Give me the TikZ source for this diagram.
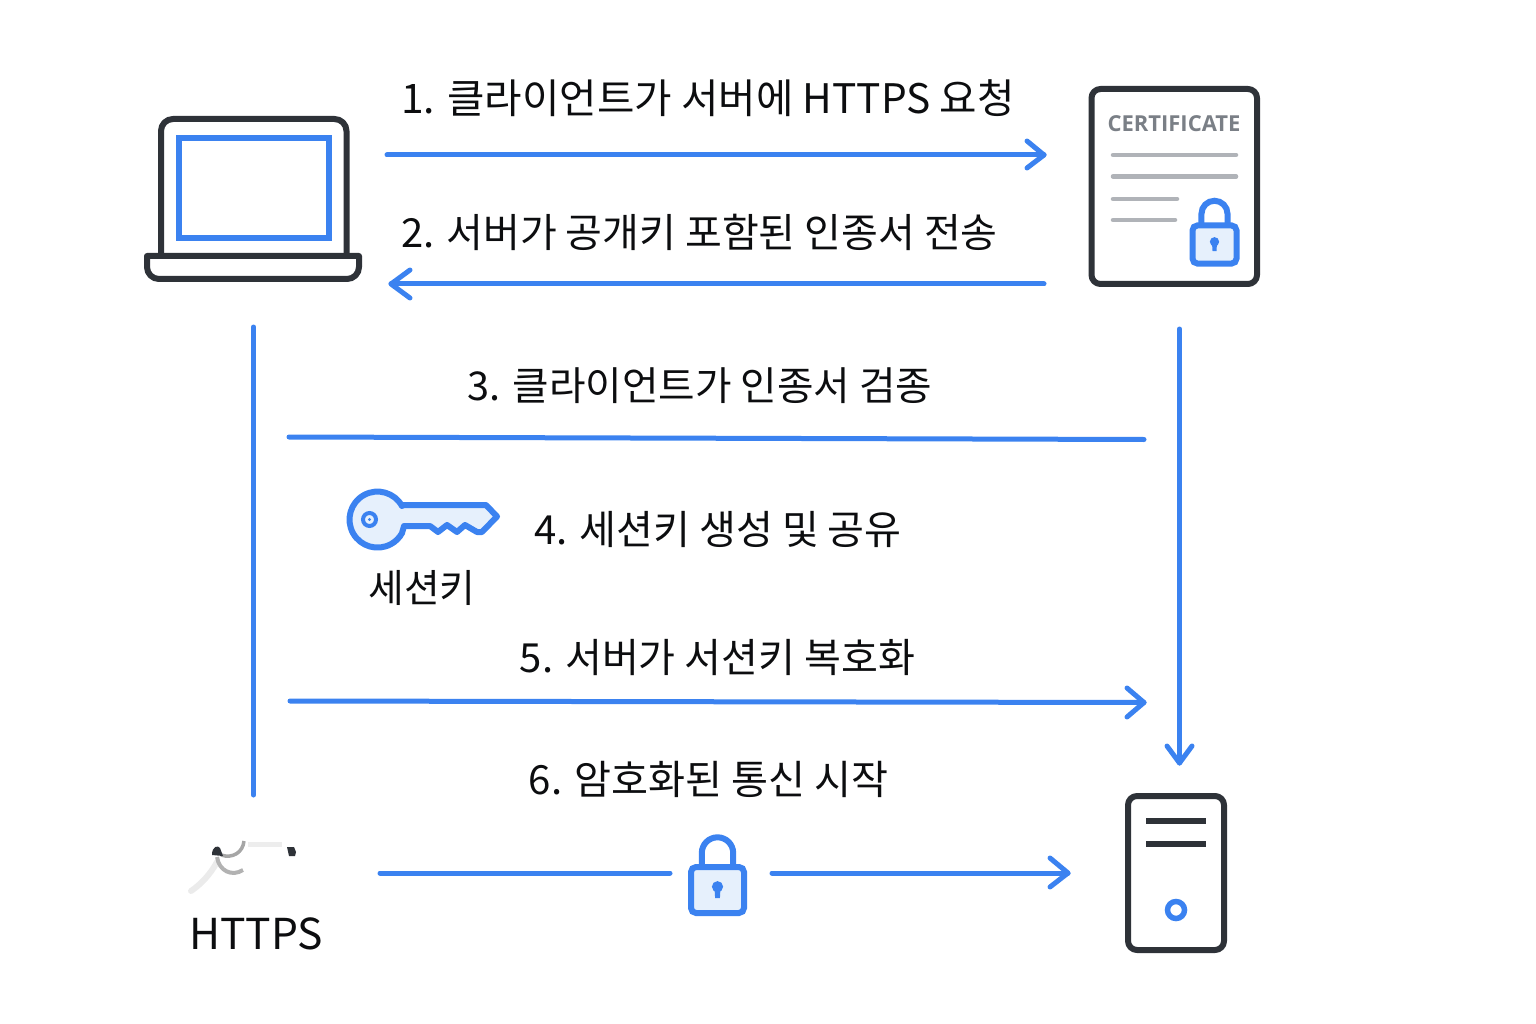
\documentclass[tikz,border=0pt]{standalone}
\usepackage{fontspec}
\setmainfont{Noto Sans CJK KR}
\newfontfamily\latinfont{Open Sans}
\definecolor{bluemain}{HTML}{3B82F0}
\definecolor{bluefill}{HTML}{E6F0FC}
\definecolor{darkline}{HTML}{2E3238}
\definecolor{inkline}{HTML}{0C0D0F}
\definecolor{graybar}{HTML}{B0B3B8}
\definecolor{certgray}{HTML}{7A7F86}
\tikzset{
  flow/.style={draw=bluemain,line width=5pt,line cap=round,line join=round},
  tipline/.style={draw=bluemain,line width=5pt,line cap=round,line join=round,fill=none},
  dark/.style={draw=darkline,line width=6pt,line join=round},
  label/.style={inner sep=0pt,text=inkline,anchor=center},
  bar/.style={draw=graybar,line width=4.5pt,line cap=round},
  pics/padlock/.style={code={
    \draw[draw=bluemain,line width=6pt] (-15.7,-22) -- (-15.7,-37) arc[start angle=180,end angle=360,radius=15.7] -- (15.7,-22);
    \draw[draw=bluemain,line width=6pt,fill=bluefill,rounded corners=5pt] (-26.5,-23) rectangle (26.5,23);
    \fill[bluemain] (0,-3.3) circle (5.6);
    \fill[bluemain] (-3,-2) -- (3,-2) -- (2.4,8) -- (-2.4,8) -- cycle;
  }}
}
\begin{document}
\begin{tikzpicture}[x=1pt,y=-1pt]
\useasboundingbox (0,0) rectangle (1536,1024);
% laptop
\draw[dark,rounded corners=12pt,fill=white] (161,256) -- (161,119) -- (346.5,119) -- (346.5,256);
\draw[draw=bluemain,line width=6pt] (179,138) rectangle (329,238);
\draw[dark] (147,256) [rounded corners=12pt] -- (147,279) -- (359,279) [sharp corners] -- (359,256) -- cycle;
% certificate
\draw[dark,line width=6pt,rounded corners=9pt,fill=white] (1091.5,89) rectangle (1257,284);
\node[inner sep=0pt,text=certgray,font=\latinfont\bfseries\fontsize{22}{26}\selectfont] (certtitle) at (1174,124) {CERTIFICATE};
\coordinate (b1a) at (1113,155); \coordinate (b1b) at (1236,155);
\coordinate (b2a) at (1113,176.5); \coordinate (b2b) at (1236,176.5);
\coordinate (b3a) at (1113,199); \coordinate (b3b) at (1177,199);
\coordinate (b4a) at (1113,220); \coordinate (b4b) at (1175,220);
\draw[bar] (b1a) -- (b1b);
\draw[bar] (b2a) -- (b2b);
\draw[bar] (b3a) -- (b3b);
\draw[bar] (b4a) -- (b4b);
\pic[scale=0.83] at (1214.5,244.5) {padlock};
% server
\draw[dark,rounded corners=9pt] (1128,796) rectangle (1224,950);
\draw[draw=darkline,line width=6pt] (1146,821) -- (1206,821);
\draw[draw=darkline,line width=6pt] (1146,844) -- (1206,844);
\draw[draw=bluemain,line width=5.5pt] (1176,910) circle (8.5);
% arrows
\coordinate (a1s) at (387,155); \coordinate (a1e) at (1044,155);
\draw[flow] (a1s) -- (a1e);
\draw[tipline] (1027,141) -- (a1e) -- (1027,168);
\coordinate (a2s) at (1044,284); \coordinate (a2e) at (391,284);
\draw[flow] (a2s) -- (a2e);
\draw[tipline] (410,270) -- (a2e) -- (410,298);
\coordinate (v1s) at (253.5,327); \coordinate (v1e) at (253.5,795);
\draw[flow] (v1s) -- (v1e);
\coordinate (v2s) at (1179.5,329); \coordinate (v2e) at (1179.5,763);
\draw[flow] (v2s) -- (v2e);
\draw[tipline] (1167,746) -- (v2e) -- (1192,746);
\coordinate (l3s) at (289,437); \coordinate (l3e) at (1144,439.5);
\draw[flow] (l3s) -- (l3e);
\coordinate (a5s) at (290,701); \coordinate (a5e) at (1144,702.5);
\draw[flow] (a5s) -- (a5e);
\draw[tipline] (1127,688) -- (a5e) -- (1127,717);
\coordinate (a6s) at (380,873); \coordinate (a6m) at (670,873);
\coordinate (a6n) at (772,873); \coordinate (a6e) at (1068,873);
\draw[flow] (a6s) -- (a6m);
\draw[flow] (a6n) -- (a6e);
\draw[tipline] (1050,858) -- (a6e) -- (1050,887);
\pic at (717.5,890) {padlock};
% key
\draw[draw=bluemain,line width=6pt,line join=round,fill=bluefill]
  (402,506) arc[start angle=-29,end angle=-331,radius=28] -- (404,526) -- (430,526) -- (438,532) -- (447,525) -- (457,532) -- (465,525) -- (477,532) -- (482,532) -- (497,516.5) -- (486,505) -- (404,505) -- cycle;
\draw[draw=bluemain,line width=4pt,fill=bluefill] (369.5,519.5) circle (6.5);
\fill[bluemain] (369.5,519.5) circle (1.6);
% broken https icon
\draw[draw=black!8,line width=6pt,line cap=round] (217,862) .. controls (210,875) and (200,885) .. (191,891);
\draw[draw=black!7,line width=5pt] (248,844) -- (282,844);
\draw[draw=black!35,line width=3.5pt] (244,841) .. controls (243,852) and (233,859) .. (221,855);
\draw[draw=black!30,line width=4pt] (217,857) .. controls (219,871) and (232,877) .. (243,870);
\fill[darkline] (212,855) .. controls (212,846) and (218,845) .. (220,848) -- (223,856) -- cycle;
\fill[darkline] (287,847) -- (294,847) -- (296,852) -- (295,856) -- (289,856) -- cycle;
% labels
\node[label,font=\fontsize{40.7}{46}\selectfont] (t1) at (708,98.5) {1. 클라이언트가 서버에 HTTPS 요청};
\node[label,font=\fontsize{40}{46}\selectfont] (t2) at (699.5,232.5) {2. 서버가 공개키 포함된 인종서 전송};
\node[label,font=\fontsize{39.7}{46}\selectfont] (t3) at (700,385.5) {3. 클라이언트가 인종서 검종};
\node[label,font=\fontsize{40.1}{46}\selectfont] (t4) at (718,529.5) {4. 세션키 생성 및 공유};
\node[label,font=\fontsize{38.8}{46}\selectfont] (tk) at (422,587.5) {세션키};
\node[label,font=\fontsize{40.1}{46}\selectfont] (t5) at (717.5,657.5) {5. 서버가 서션키 복호화};
\node[label,font=\fontsize{40.2}{46}\selectfont] (t6) at (708.5,779.5) {6. 암호화된 통신 시작};
\node[label,font=\fontsize{42.6}{46}\selectfont] (th) at (256,934) {HTTPS};
\end{tikzpicture}
\end{document}
